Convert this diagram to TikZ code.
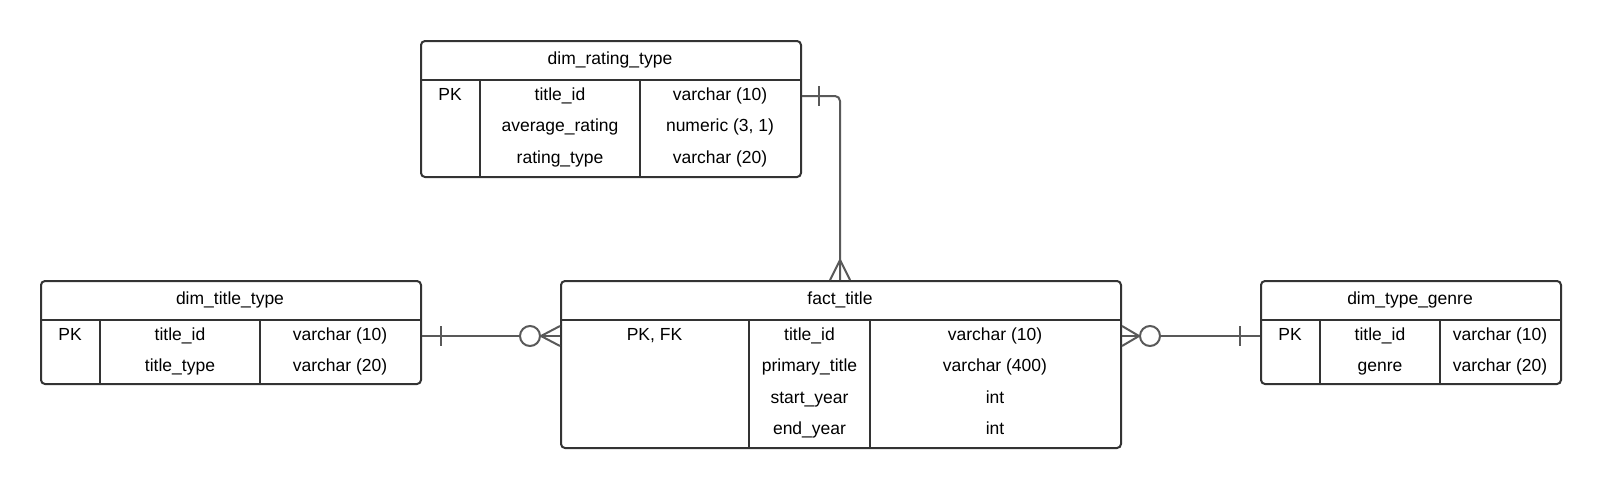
\documentclass[tikz,border=0pt]{standalone}
\usepackage{fontspec}
\setmainfont{Liberation Sans}
\usetikzlibrary{calc}
\definecolor{bord}{HTML}{333333}
\definecolor{connc}{HTML}{595959}
\begin{document}
\begin{tikzpicture}[x=1pt,y=-1pt,
  tbl/.style={draw=bord, line width=2pt, rounded corners=4pt, inner sep=0pt, anchor=north west, fill=white},
  sepline/.style={draw=bord, line width=2pt},
  cell/.style={font=\fontsize{17.5}{20}\selectfont, inner sep=0pt, text=black, text height=13pt, text depth=4pt},
  connline/.style={draw=connc, line width=2pt},
  ring/.style={draw=connc, line width=2pt, fill=white, circle, minimum size=20pt, inner sep=0pt},
]
\useasboundingbox (0,0) rectangle (1600,488);

% ---------- dim_rating_type ----------
\node[tbl, minimum width=380pt, minimum height=136pt] (drt) at (420,40) {};
\draw[sepline] (drt.west |- 0,80) -- (drt.east |- 0,80);
\draw[sepline] (480,80) -- (480,176);
\draw[sepline] (640,80) -- (640,176);
\node[cell] (drt-h) at (610,59.5) {dim\_rating\_type};
\node[cell] (drt-k1) at (450,95.5) {PK};
\node[cell] (drt-n1) at (560,95.5) {title\_id};
\node[cell] (drt-t1) at (720,95.5) {varchar (10)};
\node[cell] (drt-n2) at (560,127) {average\_rating};
\node[cell] (drt-t2) at (720,127) {numeric (3, 1)};
\node[cell] (drt-n3) at (560,158.5) {rating\_type};
\node[cell] (drt-t3) at (720,158.5) {varchar (20)};

% ---------- dim_title_type ----------
\node[tbl, minimum width=380pt, minimum height=103pt] (dtt) at (40,280) {};
\draw[sepline] (dtt.west |- 0,320) -- (dtt.east |- 0,320);
\draw[sepline] (100,320) -- (100,383);
\draw[sepline] (260,320) -- (260,383);
\node[cell] (dtt-h) at (230,299.5) {dim\_title\_type};
\node[cell] (dtt-k1) at (70,335.5) {PK};
\node[cell] (dtt-n1) at (180,335.5) {title\_id};
\node[cell] (dtt-t1) at (340,335.5) {varchar (10)};
\node[cell] (dtt-n2) at (180,367) {title\_type};
\node[cell] (dtt-t2) at (340,367) {varchar (20)};

% ---------- fact_title ----------
\node[tbl, minimum width=560pt, minimum height=167pt] (ft) at (560,280) {};
\draw[sepline] (ft.west |- 0,320) -- (ft.east |- 0,320);
\draw[sepline] (749,320) -- (749,447);
\draw[sepline] (870,320) -- (870,447);
\node[cell] (ft-h) at (840,299.5) {fact\_title};
\node[cell] (ft-k1) at (654.5,335.5) {PK, FK};
\node[cell] (ft-n1) at (809.5,335.5) {title\_id};
\node[cell] (ft-t1) at (995,335.5) {varchar (10)};
\node[cell] (ft-n2) at (809.5,367) {primary\_title};
\node[cell] (ft-t2) at (995,367) {varchar (400)};
\node[cell] (ft-n3) at (809.5,398.5) {start\_year};
\node[cell] (ft-t3) at (995,398.5) {int};
\node[cell] (ft-n4) at (809.5,430) {end\_year};
\node[cell] (ft-t4) at (995,430) {int};

% ---------- dim_type_genre ----------
\node[tbl, minimum width=300pt, minimum height=103pt] (dtg) at (1260,280) {};
\draw[sepline] (dtg.west |- 0,320) -- (dtg.east |- 0,320);
\draw[sepline] (1320,320) -- (1320,383);
\draw[sepline] (1440,320) -- (1440,383);
\node[cell] (dtg-h) at (1410,299.5) {dim\_type\_genre};
\node[cell] (dtg-k1) at (1290,335.5) {PK};
\node[cell] (dtg-n1) at (1380,335.5) {title\_id};
\node[cell] (dtg-t1) at (1500,335.5) {varchar (10)};
\node[cell] (dtg-n2) at (1380,367) {genre};
\node[cell] (dtg-t2) at (1500,367) {varchar (20)};

% ---------- connector: dim_rating_type -> fact_title ----------
\coordinate (bend1) at (840,96);
\draw[connline, rounded corners=5pt] (drt.east |- bend1) -- (bend1) -- (ft.north -| bend1);
\draw[connline] (819,86) -- (819,106);
\draw[connline] (830,280) -- (840,260) -- (850,280);

% ---------- connector: dim_title_type -> fact_title ----------
\coordinate (row2) at (0,336);
\draw[connline] (dtt.east |- row2) -- (ft.west |- row2);
\draw[connline] (441,326) -- (441,346);
\node[ring] (ring1) at (530,336) {};
\draw[connline] (ft.west |- 0,326) -- (ring1.east) -- (ft.west |- 0,346);

% ---------- connector: fact_title -> dim_type_genre ----------
\draw[connline] (ft.east |- row2) -- (dtg.west |- row2);
\draw[connline] (1240,326) -- (1240,346);
\node[ring] (ring2) at (1150,336) {};
\draw[connline] (ft.east |- 0,326) -- (ring2.west) -- (ft.east |- 0,346);
\end{tikzpicture}
\end{document}
